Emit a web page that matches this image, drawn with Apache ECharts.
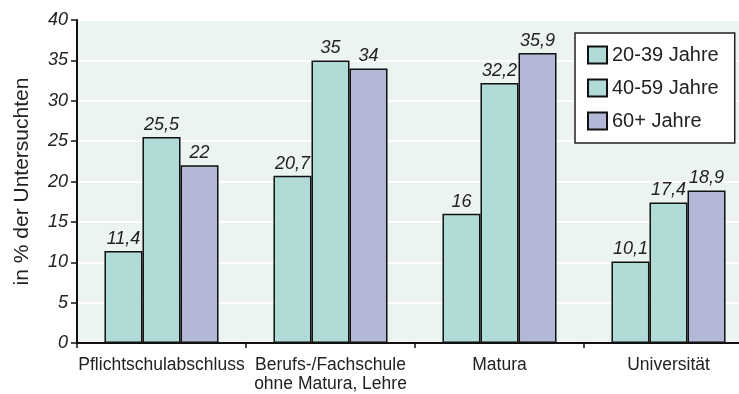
<!DOCTYPE html>
<html>
<head>
<meta charset="utf-8">
<script src="https://cdn.jsdelivr.net/npm/echarts@6/dist/echarts.min.js"></script>
<style>
html,body{margin:0;padding:0;background:#fff;}
#chart{width:739px;height:394px;}
</style>
</head>
<body>
<div id="chart"></div>
<script>
const categories = ['Pflichtschulabschluss', 'Berufs-/Fachschule\nohne Matura, Lehre', 'Matura', 'Universität'];
const seriesNames = ['20-39 Jahre', '40-59 Jahre', '60+ Jahre'];
const age20to39 = [11.4, 20.7, 16, 10.1];
const age40to59 = [25.5, 35, 32.2, 17.4];
const age60plus = [22, 34, 35.9, 18.9];
const yTicks = [0, 5, 10, 15, 20, 25, 30, 35, 40];

const FONT = '"Liberation Sans", Arial, sans-serif';
const colors = ['#b0dbd7', '#b0dbd7', '#b3b8d6'];

function mkSeries(name, data, color) {
  return {
    name: name,
    type: 'bar',
    data: data,
    barWidth: '22.5%',
    barGap: '0%',
    itemStyle: { color: color, borderColor: '#111', borderWidth: 1.5 },
    label: {
      show: true,
      position: 'top',
      distance: 3,
      fontFamily: FONT,
      fontStyle: 'italic',
      fontSize: 18,
      color: '#222',
      formatter: p => String(p.value).replace('.', ',')
    }
  };
}

const chart = echarts.init(document.getElementById('chart'), null, { renderer: 'canvas' });
chart.setOption({
  animation: false,
  textStyle: { fontFamily: FONT },
  grid: {
    left: 77, top: 20, width: 676, height: 323,
    outerBoundsMode: 'none',
    containLabel: false,
    show: true, backgroundColor: '#ecf4f1', borderColor: '#333', borderWidth: 1.5
  },
  legend: {
    orient: 'vertical',
    left: 575, top: 33,
    backgroundColor: '#fff',
    borderColor: '#222', borderWidth: 1.5,
    padding: [12, 16, 12, 12],
    itemGap: 13,
    itemWidth: 19, itemHeight: 17,
    icon: 'rect',
    textStyle: { fontSize: 20, color: '#222', fontFamily: FONT, padding: [0, 0, 0, 0] },
    data: seriesNames
  },
  xAxis: {
    type: 'category',
    data: categories,
    axisLine: { lineStyle: { color: '#111', width: 2 } },
    axisTick: { show: true, length: 5, lineStyle: { color: '#111', width: 1.5 } },
    axisLabel: { interval: 0, fontSize: 17.5, color: '#222', margin: 13, lineHeight: 19, fontFamily: FONT }
  },
  yAxis: {
    type: 'value',
    min: yTicks[0], max: yTicks[yTicks.length - 1], interval: 5,
    name: 'in % der Untersuchten',
    nameLocation: 'middle',
    nameGap: 44,
    nameTextStyle: { fontSize: 21, color: '#222', fontFamily: FONT },
    axisLine: { show: true, lineStyle: { color: '#111', width: 2 } },
    axisTick: { show: true, length: 6, lineStyle: { color: '#111', width: 1.5 } },
    axisLabel: { fontSize: 18, fontStyle: 'italic', color: '#222', margin: 9, fontFamily: FONT },
    splitLine: { show: true, lineStyle: { color: '#ffffff', width: 2 } }
  },
  series: [
    mkSeries(seriesNames[0], age20to39, colors[0]),
    mkSeries(seriesNames[1], age40to59, colors[1]),
    mkSeries(seriesNames[2], age60plus, colors[2])
  ]
});
</script>
</body>
</html>
